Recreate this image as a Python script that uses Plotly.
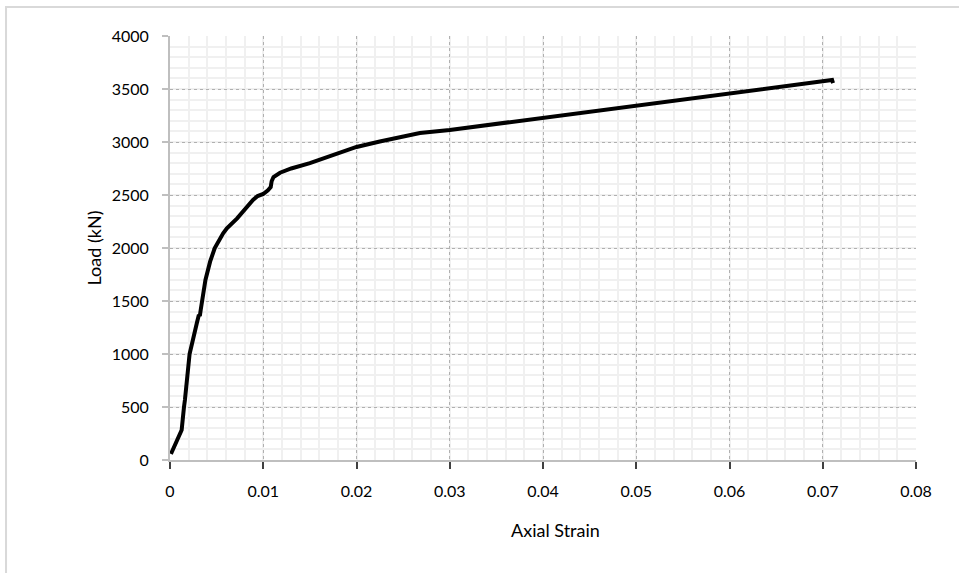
import plotly.graph_objects as go

# Axial strain vs load
strain = [0.0001, 0.0007, 0.00125, 0.0015, 0.0016, 0.0021, 0.0025, 0.0029, 0.0031, 0.0032,
          0.0033, 0.0034, 0.0038, 0.0043, 0.0048, 0.0057, 0.0061, 0.0072, 0.0082, 0.0089,
          0.0094, 0.0100, 0.0105, 0.0108, 0.0109, 0.0111, 0.0118, 0.0130, 0.0150, 0.0175,
          0.0200, 0.0225, 0.0250, 0.0268, 0.0300, 0.0350, 0.0400, 0.0450, 0.0500, 0.0550,
          0.0600, 0.0650, 0.0700, 0.0710, 0.0711]
load = [57, 170, 283, 500, 566, 1000, 1132, 1300, 1370, 1360,
        1420, 1478, 1698, 1871, 2000, 2139, 2186, 2280, 2390, 2453,
        2490, 2510, 2545, 2575, 2630, 2670, 2710, 2750, 2800, 2880,
        2953, 3005, 3047, 3085, 3113, 3170, 3228, 3285, 3343, 3400,
        3455, 3510, 3566, 3585, 3556]

x_ticks = [0, 0.01, 0.02, 0.03, 0.04, 0.05, 0.06, 0.07, 0.08]
x_tick_labels = ["0", "0.01", "0.02", "0.03", "0.04", "0.05", "0.06", "0.07", "0.08"]
y_ticks = [0, 500, 1000, 1500, 2000, 2500, 3000, 3500, 4000]

fig = go.Figure()
fig.add_trace(go.Scatter(x=strain, y=load, mode="lines",
                         line=dict(color="black", width=4), showlegend=False))

font = "Lato, 'Open Sans', sans-serif"
fig.update_layout(
    width=959, height=573,
    margin=dict(l=170, r=43, t=36, b=113),
    paper_bgcolor="white", plot_bgcolor="white",
    font=dict(family=font, size=16, color="black"),
    xaxis=dict(
        range=[0, 0.08], tickvals=x_ticks, ticktext=x_tick_labels,
        showgrid=True, gridcolor="#b0b0b0", gridwidth=1, griddash="dot",
        minor=dict(dtick=0.002, showgrid=True, gridcolor="#f0f0f0", gridwidth=2, griddash="solid"),
        showline=True, linecolor="#bfbfbf", linewidth=2,
        ticks="outside", ticklen=7, tickcolor="#404040", tickwidth=1.5,
        ticklabelstandoff=9,
        zeroline=False, automargin=False,
        tickfont=dict(size=16),
    ),
    yaxis=dict(
        range=[0, 4000], tickvals=y_ticks,
        showgrid=True, gridcolor="#b0b0b0", gridwidth=1, griddash="dot",
        minor=dict(dtick=100, showgrid=True, gridcolor="#f0f0f0", gridwidth=2, griddash="solid"),
        showline=True, linecolor="#bfbfbf", linewidth=2,
        ticks="outside", ticklen=6, tickcolor="#bfbfbf", tickwidth=1.5,
        ticklabelstandoff=10,
        zeroline=False, automargin=False,
        title=dict(text="Load (kN)", font=dict(size=18), standoff=5),
        tickfont=dict(size=16),
    ),
    annotations=[dict(text="Axial Strain", xref="paper", yref="paper",
                      x=0.517, y=-0.165, xanchor="center", yanchor="middle",
                      showarrow=False, font=dict(size=18))],
    shapes=[dict(type="rect", xref="paper", yref="paper",
                 x0=-0.2198, x1=1.2, y0=-0.35, y1=1.0684,
                 line=dict(color="#d9d9d9", width=2), layer="below")],
)

fig.write_html("out.html", config={"displayModeBar": False},
               post_script="document.body.style.margin='0px';")
